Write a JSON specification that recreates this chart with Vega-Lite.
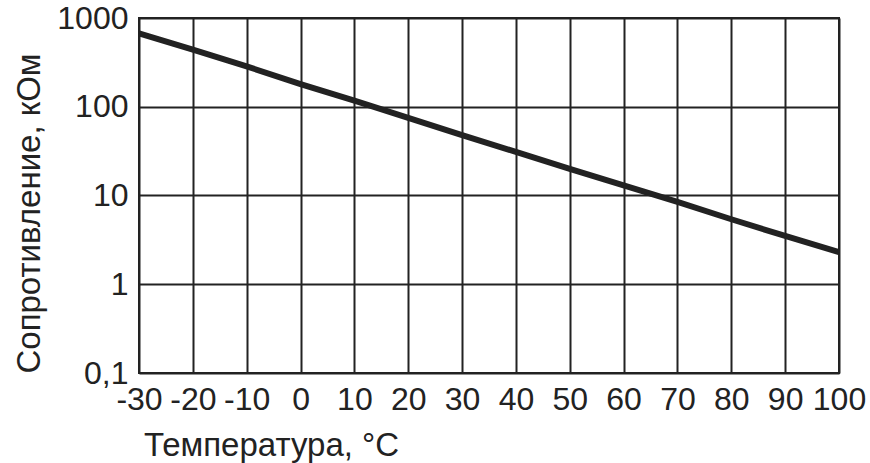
{
  "$schema": "https://vega.github.io/schema/vega-lite/v6.json",
  "width": 700,
  "height": 355,
  "autosize": "none",
  "padding": {"left": 139, "top": 18, "right": 31, "bottom": 90},
  "background": "white",
  "config": {
    "view": {"stroke": "#222222", "strokeWidth": 2},
    "font": "Liberation Sans"
  },
  "data": {
    "values": [
      {"t": -30, "r": 670},
      {"t": -20, "r": 440},
      {"t": -10, "r": 285},
      {"t": 0, "r": 180},
      {"t": 10, "r": 117},
      {"t": 20, "r": 75},
      {"t": 30, "r": 48},
      {"t": 40, "r": 31},
      {"t": 50, "r": 20},
      {"t": 60, "r": 13},
      {"t": 70, "r": 8.5},
      {"t": 80, "r": 5.4},
      {"t": 90, "r": 3.5},
      {"t": 100, "r": 2.3}
    ]
  },
  "mark": {"type": "line", "color": "#222222", "strokeWidth": 6, "strokeCap": "butt", "clip": true},
  "encoding": {
    "x": {
      "field": "t",
      "type": "quantitative",
      "scale": {"domain": [-30, 100], "nice": false, "zero": false},
      "axis": {
        "title": "Температура, °C",
        "values": [-30, -20, -10, 0, 10, 20, 30, 40, 50, 60, 70, 80, 90, 100],
        "labelExpr": "replace(datum.label, '−', '-')",
        "labelOverlap": false,
        "labelFontSize": 32,
        "labelColor": "#222222",
        "labelPadding": 11,
        "labelFlush": false,
        "ticks": false,
        "domain": false,
        "grid": true,
        "gridColor": "#222222",
        "gridWidth": 2,
        "gridOpacity": 1,
        "titleFontSize": 33,
        "titleFontWeight": "normal",
        "titleColor": "#222222",
        "titleAlign": "center",
        "titleBaseline": "alphabetic",
        "titleX": 132,
        "titleY": 82
      }
    },
    "y": {
      "field": "r",
      "type": "quantitative",
      "scale": {"type": "log", "domain": [0.1, 1000], "nice": false},
      "axis": {
        "title": "Сопротивление, кОм",
        "values": [0.1, 1, 10, 100, 1000],
        "labelExpr": "datum.value < 1 ? '0,1' : format(datum.value, 'd')",
        "labelFontSize": 32,
        "labelColor": "#222222",
        "labelPadding": 11,
        "labelBaseline": "middle",
        "labelFlush": false,
        "labelOverlap": false,
        "ticks": false,
        "domain": false,
        "grid": true,
        "gridColor": "#222222",
        "gridWidth": 2,
        "gridOpacity": 1,
        "titleFontSize": 33,
        "titleFontWeight": "normal",
        "titleColor": "#222222",
        "titleAlign": "center",
        "titleBaseline": "alphabetic",
        "titleX": -100,
        "titleY": 195
      }
    }
  }
}
